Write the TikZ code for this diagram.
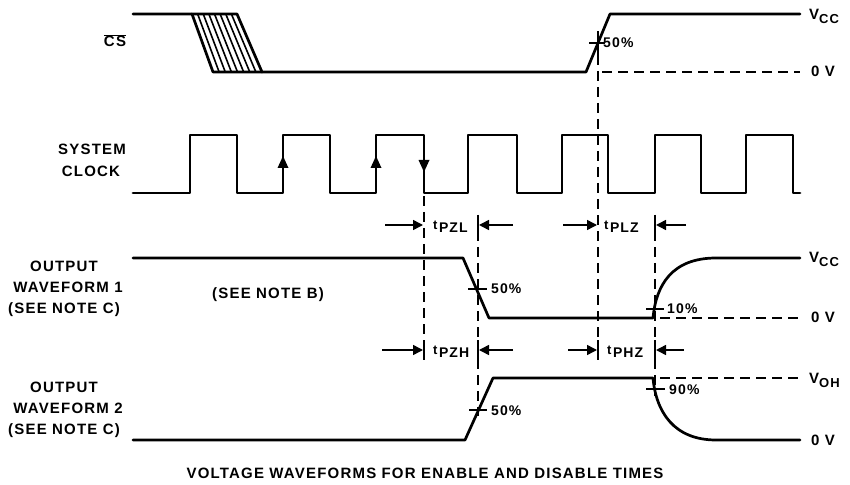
\documentclass[tikz,border=0pt]{standalone}
\usepackage{fontspec}
\setmainfont{Liberation Sans}[LetterSpace=8]
\usetikzlibrary{arrows.meta}
\newcommand\tsublbl[1]{{\fontsize{13bp}{13bp}\selectfont t\kern1.5bp\raisebox{-3bp}{\fontsize{14bp}{14bp}\selectfont #1}}}
\newcommand\vsublbl[2]{#1\raisebox{-4bp}{\fontsize{13bp}{13bp}\selectfont #2}}
\begin{document}
\begin{tikzpicture}[x=1bp,y=-1bp,
  wave/.style={line width=2.7bp, line join=round, line cap=round},
  hatchline/.style={line width=1.6bp},
  tickline/.style={line width=1.9bp},
  dashline/.style={line width=1.5bp, dash pattern=on 10bp off 6bp},
  dimarrow/.style={line width=1.5bp, -{Triangle[length=10bp,width=10bp]}},
  barline/.style={line width=1.6bp},
  lbl/.style={font=\fontsize{15bp}{17bp}\selectfont\bfseries, inner sep=0pt, anchor=base},
  vlbl/.style={font=\fontsize{15bp}{17bp}\selectfont\bfseries, inner sep=0pt, anchor=base west},
  pct/.style={font=\fontsize{14bp}{16bp}\selectfont\bfseries, inner sep=0pt, anchor=base west},
  tlbl/.style={font=\bfseries, inner sep=0pt, anchor=base west},
  head/.style={fill=black}
]
\useasboundingbox (0,0) rectangle (850,485);

% ---------------- labels on the left
\node[lbl] (cs) at (115,47) {$\overline{\hbox{CS}}$};
\node[lbl] (sys1) at (92,155) {SYSTEM};
\node[lbl] (sys2) at (91,177) {CLOCK};
\node[lbl] (o1a) at (64,272) {OUTPUT};
\node[lbl] (o1b) at (68,293) {WAVEFORM 1};
\node[lbl] (o1c) at (64,314) {(SEE NOTE C)};
\node[lbl] (o2a) at (64,392) {OUTPUT};
\node[lbl] (o2b) at (68,413) {WAVEFORM 2};
\node[lbl] (o2c) at (64,434) {(SEE NOTE C)};
\node[lbl] (noteb) at (268,299) {(SEE NOTE B)};
\node[lbl] (caption) at (425,478) {VOLTAGE WAVEFORMS FOR ENABLE AND DISABLE TIMES};

% ---------------- CS waveform
\draw[wave] (133,14) -- (237,14) -- (262,72) -- (586,72) -- (610,14) -- (800,14);
\draw[wave] (192,14) -- (213,72) -- (262,72);
\foreach \i in {1,...,7}{
  \draw[hatchline] ({192+\i*45/8},14) -- ({213+\i*49/8},72);
}
\draw[dashline] (602,72) -- (800,72);
\draw[tickline] (589,43) -- (605,43);
\draw[tickline] (598,31) -- (598,55);
\node[pct] (p50a) at (603,48) {50\%};
\node[vlbl] (vcc1) at (809,20) {\vsublbl{V}{CC}};
\node[vlbl] (zv1) at (811,77) {0 V};

% ---------------- system clock
\draw[wave] (133,193)
  -- (190,193) -- (190,135) -- (237,135) -- (237,193)
  -- (283,193) -- (283,135) -- (330,135) -- (330,193)
  -- (376,193) -- (376,135) -- (424,135) -- (424,193)
  -- (468,193) -- (468,135) -- (517,135) -- (517,193)
  -- (562,193) -- (562,135) -- (608,135) -- (608,193)
  -- (655,193) -- (655,135) -- (701,135) -- (701,193)
  -- (746,193) -- (746,135) -- (793,135) -- (793,193) -- (800,193);
\fill[head] (283,156) -- (277.5,168) -- (288.5,168) -- cycle;
\fill[head] (376,156) -- (370.5,168) -- (381.5,168) -- cycle;
\fill[head] (424,172) -- (418.5,160) -- (429.5,160) -- cycle;

% ---------------- dashed reference lines
\draw[dashline] (598,55) -- (598,356);
\draw[dashline] (424,196) -- (424,356);
\draw[dashline] (478,215) -- (478,416);
\draw[dashline] (655,215) -- (655,396);

% ---------------- timing arrows, top row
\coordinate (a1s) at (385,225); \coordinate (a1e) at (423,225);
\coordinate (a2s) at (513,225); \coordinate (a2e) at (479,225);
\coordinate (a3s) at (563,225); \coordinate (a3e) at (597,225);
\coordinate (a4s) at (686,225); \coordinate (a4e) at (656,225);
\draw[dimarrow] (a1s) -- (a1e);
\draw[dimarrow] (a2s) -- (a2e);
\draw[dimarrow] (a3s) -- (a3e);
\draw[dimarrow] (a4s) -- (a4e);
\draw[barline] (478,215) -- (478,235);
\draw[barline] (655,215) -- (655,235);
\node[tlbl] (tpzl) at (433,230) {\tsublbl{PZL}};
\node[tlbl] (tplz) at (604,230) {\tsublbl{PLZ}};

% ---------------- timing arrows, bottom row
\coordinate (b1s) at (382,350); \coordinate (b1e) at (423,350);
\coordinate (b2s) at (513,350); \coordinate (b2e) at (479,350);
\coordinate (b3s) at (568,350); \coordinate (b3e) at (597,350);
\coordinate (b4s) at (684,350); \coordinate (b4e) at (656,350);
\draw[dimarrow] (b1s) -- (b1e);
\draw[dimarrow] (b2s) -- (b2e);
\draw[dimarrow] (b3s) -- (b3e);
\draw[dimarrow] (b4s) -- (b4e);
\draw[barline] (424,340) -- (424,360);
\draw[barline] (478,340) -- (478,360);
\draw[barline] (598,340) -- (598,360);
\draw[barline] (655,340) -- (655,360);
\node[tlbl] (tpzh) at (433,354) {\tsublbl{PZH}};
\node[tlbl] (tphz) at (607,354) {\tsublbl{PHZ}};

% ---------------- output waveform 1
\draw[wave] (133,258) -- (463,258) -- (489,318) -- (653,318)
  .. controls (656,285) and (672,258) .. (716,258) -- (800,258);
\draw[dashline] (660,318) -- (800,318);
\draw[tickline] (468,289) -- (487,289);
\draw[tickline] (646,309) -- (664,309);
\node[pct] (p50b) at (491,294) {50\%};
\node[pct] (p10) at (667,314) {10\%};
\node[vlbl] (vcc2) at (809,263) {\vsublbl{V}{CC}};
\node[vlbl] (zv2) at (811,323) {0 V};

% ---------------- output waveform 2
\draw[wave] (133,440) -- (465,440) -- (493,378) -- (653,378)
  .. controls (656,412) and (674,440) .. (716,440) -- (800,440);
\draw[dashline] (660,378) -- (800,378);
\draw[tickline] (469,410) -- (487,410);
\draw[tickline] (646,389) -- (665,389);
\node[pct] (p50c) at (491,415) {50\%};
\node[pct] (p90) at (669,394) {90\%};
\node[vlbl] (voh) at (809,383) {\vsublbl{V}{OH}};
\node[vlbl] (zv3) at (811,445) {0 V};
\end{tikzpicture}
\end{document}
